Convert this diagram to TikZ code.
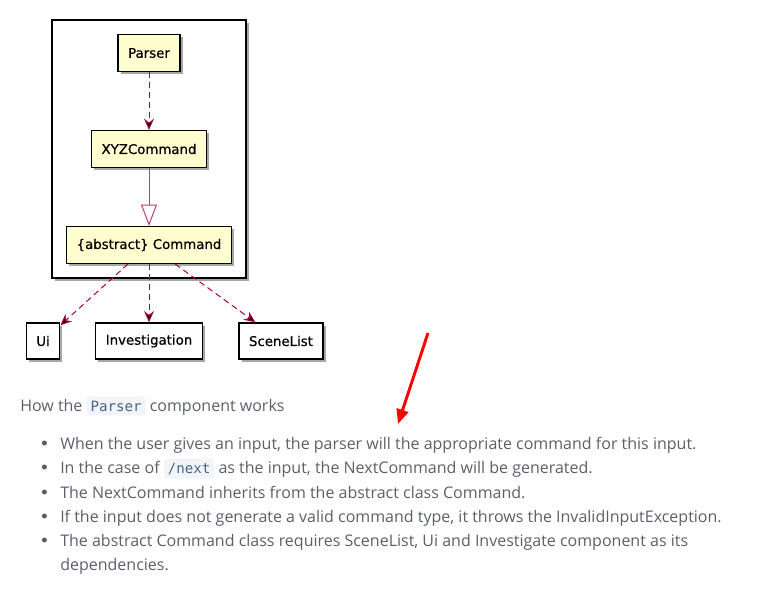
\documentclass[tikz,border=0pt]{standalone}
\usepackage{fontspec}
\setmainfont{Open Sans}
\setmonofont{DejaVu Sans Mono}
\newfontfamily\umlfont[FakeBold=0.6]{DejaVu Sans}
\usetikzlibrary{arrows.meta,shadows,fit,backgrounds}

\definecolor{umlred}{HTML}{A80036}
\definecolor{umlfill}{HTML}{FEFECE}
\definecolor{bodygrey}{HTML}{5B6068}
\definecolor{codeblue}{HTML}{476582}
\definecolor{codebg}{HTML}{F1F4F8}

\newcommand{\codeword}[1]{\tikz[baseline=(cw.base)]\node[fill=codebg,rounded corners=2.5pt,inner xsep=3pt,inner ysep=3.2pt,text=codeblue,font=\ttfamily\fontsize{10.6}{12}\selectfont] (cw) {#1};}
\newcommand{\listdot}{\llap{\raisebox{2.6pt}{\tikz\fill[bodygrey] (0,0) circle (1.9pt);}\hspace{10pt}}}

\begin{document}
\begin{tikzpicture}[x=0.75pt, y=-0.75pt, node distance=72pt,
  umlshadow/.style={drop shadow={shadow xshift=2pt,shadow yshift=-2pt,fill=black,opacity=0.35}},
  umlclass/.style={rectangle, draw=black, line width=1.1pt, fill=umlfill, umlshadow, minimum height=27.5pt, inner xsep=7.5pt, font=\umlfont\fontsize{10}{12}\selectfont},
  plainclass/.style={umlclass, fill=white, minimum height=27pt},
  dep/.style={draw=umlred, line width=0.75pt, dash pattern=on 4.5pt off 3pt, -{Stealth[length=8.5pt,width=7.5pt,inset=3pt]}},
  inherit/.style={draw=umlred!75, line width=0.75pt, -{Triangle[open,length=16pt,width=12pt,fill=white]}},
  bodytext/.style={anchor=base west, inner sep=0pt, text=bodygrey, font=\fontsize{12}{14}\selectfont}]
\useasboundingbox (0,0) rectangle (759,607);

% class diagram
\node[umlclass] (parser) at (149,53) {Parser};
\node[umlclass, below of=parser] (xyz) {XYZCommand};
\node[umlclass, below of=xyz] (cmd) {\{abstract\} Command};
\node[plainclass, below of=cmd] (inv) {Investigation};
\node[plainclass, left of=inv, node distance=79.5pt] (ui) {Ui};
\node[plainclass, right of=inv, node distance=99pt] (scene) {SceneList};

\begin{scope}[on background layer]
\node[draw=black, line width=1.1pt, fill=white, umlshadow, inner xsep=10.5pt, inner ysep=10.5pt, fit=(parser)(xyz)(cmd)] (pkg) {};
\end{scope}

\path[dep] (parser) edge (xyz)
           (cmd) edge (ui)
           (cmd) edge (inv)
           (cmd) edge (scene);
\path[inherit] (xyz) edge (cmd);

% red marker
\coordinate (redtail) at (428,333);
\coordinate (redtip) at (398,424);
\draw[red, line width=2.2pt, -{Triangle[length=11pt,width=9pt]}] (redtail) -- (redtip);

% description
\node[bodytext] (howline) at (20,411) {How the \codeword{Parser} component works};
\node[bodytext] (item1) at (60,449) {\listdot When the user gives an input, the parser will the appropriate command for this input.};
\node[bodytext] (item2) at (60,473) {\listdot In the case of \codeword{/next} as the input, the NextCommand will be generated.};
\node[bodytext] (item3) at (60,498) {\listdot The NextCommand inherits from the abstract class Command.};
\node[bodytext] (item4) at (60,522) {\listdot If the input does not generate a valid command type, it throws the InvalidInputException.};
\node[bodytext] (item5) at (60,546) {\listdot The abstract Command class requires SceneList, Ui and Investigate component as its};
\node[bodytext] (item5b) at (60,570) {dependencies.};
\end{tikzpicture}
\end{document}
